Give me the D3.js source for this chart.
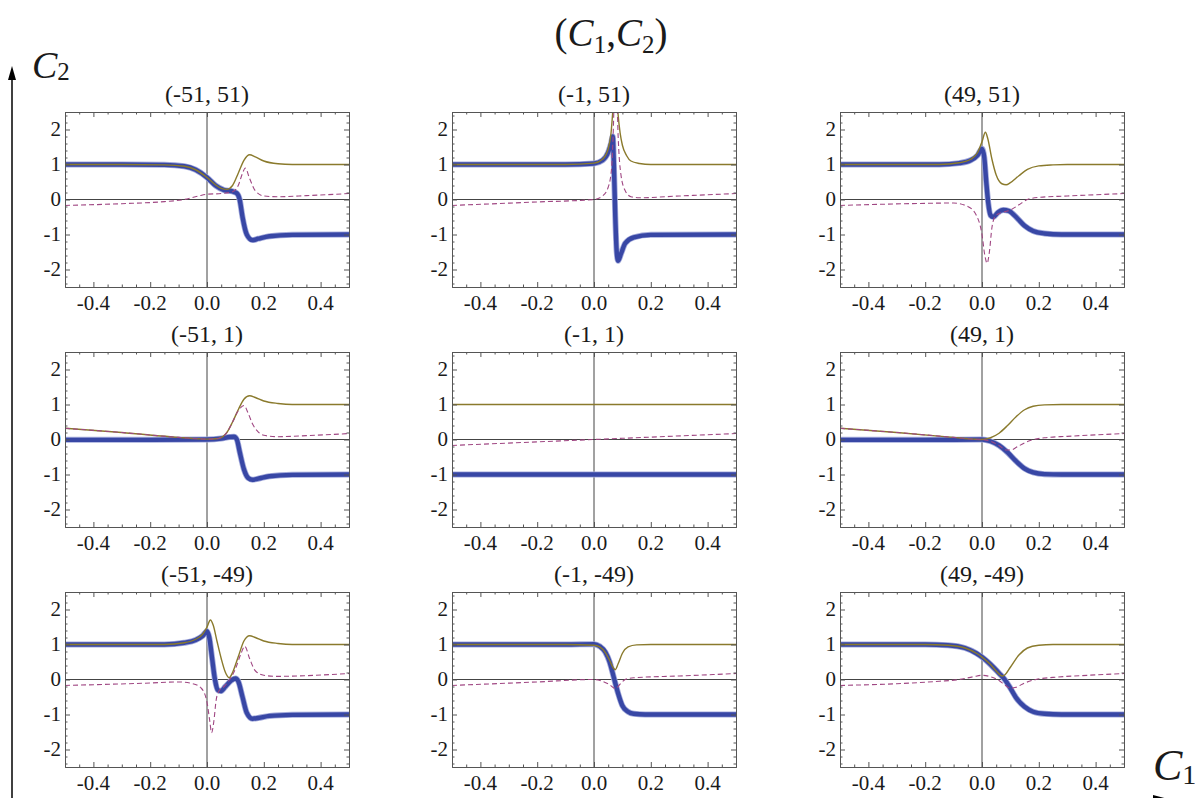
<!DOCTYPE html>
<html>
<head>
<meta charset="utf-8">
<script src="https://cdn.jsdelivr.net/npm/d3@7"></script>
<style>
  body { margin: 0; background: #fff; }
  text { font-family: "Liberation Serif", "DejaVu Serif", serif; fill: #1a1a1a; }
</style>
</head>
<body>
<script>
// Panel titles, (C1, C2) pairs, row by row
const panelTitles = ["(-51, 51)", "(-1, 51)", "(49, 51)",
                     "(-51, 1)", "(-1, 1)", "(49, 1)",
                     "(-51, -49)", "(-1, -49)", "(49, -49)"];

// Tick values and labels
const xTicks = [-0.4, -0.2, 0, 0.2, 0.4];
const xTickLabels = ["-0.4", "-0.2", "0.0", "0.2", "0.4"];
const yTicks = [-2, -1, 0, 1, 2];
const yTickLabels = ["-2", "-1", "0", "1", "2"];
const xMinor = [-0.5, -0.45, -0.35, -0.3, -0.25, -0.15, -0.1, -0.05, 0.05, 0.1, 0.15, 0.25, 0.3, 0.35, 0.45, 0.5];
const yMinor = [-2.4, -2.2, -1.8, -1.6, -1.4, -1.2, -0.8, -0.6, -0.4, -0.2, 0.2, 0.4, 0.6, 0.8, 1.2, 1.4, 1.6, 1.8, 2.2, 2.4];

// ---- row 1 ----
const blue1 = [[-0.5,1],[-0.3,1],[-0.15,0.99],[-0.08,0.95],[-0.04,0.85],[0,0.63],[0.03,0.4],[0.06,0.27],[0.09,0.23],[0.105,0.18],[0.115,0.0],[0.125,-0.5],[0.14,-1.0],[0.16,-1.16],[0.18,-1.12],[0.22,-1.05],[0.3,-1.01],[0.5,-1]];
const olive1 = [[-0.5,1],[-0.3,1],[-0.15,0.99],[-0.08,0.95],[-0.04,0.85],[0,0.63],[0.03,0.42],[0.05,0.32],[0.07,0.29],[0.09,0.4],[0.11,0.75],[0.13,1.12],[0.15,1.28],[0.17,1.22],[0.2,1.1],[0.25,1.02],[0.3,1.0],[0.5,1]];
const dash1 = [[-0.5,-0.17],[-0.3,-0.12],[-0.15,-0.06],[-0.08,0.0],[-0.03,0.1],[0,0.15],[0.05,0.17],[0.09,0.22],[0.11,0.4],[0.125,0.75],[0.135,0.9],[0.15,0.6],[0.17,0.25],[0.2,0.1],[0.25,0.08],[0.35,0.11],[0.5,0.17]];

const blue2 = [[-0.5,1],[-0.1,1],[0,1.03],[0.03,1.12],[0.05,1.35],[0.06,1.6],[0.066,1.8],[0.07,1.0],[0.075,-0.5],[0.08,-1.5],[0.085,-1.75],[0.095,-1.55],[0.11,-1.25],[0.14,-1.08],[0.2,-1.01],[0.5,-1]];
const olive2 = [[-0.5,1],[-0.1,1],[0,1.04],[0.03,1.15],[0.05,1.45],[0.06,1.9],[0.066,2.5],[0.072,3.2],[0.078,3.2],[0.084,2.5],[0.092,1.9],[0.1,1.55],[0.115,1.25],[0.13,1.1],[0.16,1.03],[0.2,1.0],[0.5,1]];
const dash2 = [[-0.5,-0.17],[-0.2,-0.07],[0,0.0],[0.03,0.1],[0.05,0.35],[0.062,0.9],[0.068,2.0],[0.072,3.0],[0.08,3.0],[0.085,1.8],[0.095,0.7],[0.11,0.25],[0.13,0.08],[0.16,0.05],[0.3,0.1],[0.5,0.17]];

const blue3 = [[-0.5,1],[-0.15,1],[-0.08,1.04],[-0.04,1.12],[-0.015,1.27],[0,1.45],[0.008,1.2],[0.015,0.5],[0.022,-0.1],[0.03,-0.45],[0.04,-0.5],[0.055,-0.38],[0.075,-0.3],[0.095,-0.33],[0.12,-0.5],[0.15,-0.75],[0.18,-0.9],[0.22,-0.97],[0.28,-1.0],[0.5,-1]];
const olive3 = [[-0.5,1],[-0.15,1],[-0.08,1.05],[-0.04,1.15],[-0.015,1.35],[0,1.65],[0.012,1.92],[0.02,1.75],[0.035,1.15],[0.05,0.7],[0.07,0.45],[0.085,0.42],[0.1,0.48],[0.13,0.68],[0.16,0.86],[0.2,0.96],[0.25,0.99],[0.3,1.0],[0.5,1]];
const dash3 = [[-0.5,-0.17],[-0.2,-0.11],[-0.1,-0.1],[-0.05,-0.2],[-0.02,-0.45],[0,-1.0],[0.01,-1.6],[0.018,-1.82],[0.026,-1.5],[0.035,-0.8],[0.045,-0.5],[0.06,-0.4],[0.08,-0.35],[0.1,-0.3],[0.13,-0.15],[0.16,0.0],[0.2,0.06],[0.3,0.1],[0.5,0.17]];

// ---- row 2 ----
const blue4 = [[-0.5,-0.01],[-0.2,-0.01],[0,0.0],[0.05,0.03],[0.08,0.07],[0.095,0.08],[0.105,0.0],[0.115,-0.35],[0.13,-0.85],[0.145,-1.1],[0.16,-1.15],[0.18,-1.12],[0.22,-1.05],[0.3,-1.01],[0.5,-1]];
const olive4 = [[-0.5,0.32],[-0.3,0.2],[-0.1,0.06],[-0.03,0.02],[0,0.01],[0.04,0.03],[0.07,0.2],[0.09,0.5],[0.11,0.85],[0.13,1.15],[0.15,1.25],[0.17,1.2],[0.2,1.1],[0.25,1.03],[0.3,1.0],[0.5,1]];
const dash4 = [[-0.5,0.32],[-0.3,0.2],[-0.1,0.06],[-0.03,0.02],[0,0.01],[0.04,0.03],[0.07,0.2],[0.09,0.5],[0.11,0.82],[0.13,0.97],[0.145,0.75],[0.16,0.45],[0.18,0.22],[0.2,0.12],[0.25,0.08],[0.35,0.11],[0.5,0.17]];

const blue5 = [[-0.5,-1],[0,-1],[0.5,-1]];
const olive5 = [[-0.5,1],[0,1],[0.5,1]];
const dash5 = [[-0.5,-0.17],[0,0],[0.5,0.17]];

const blue6 = [[-0.5,-0.01],[-0.2,-0.01],[0,0.0],[0.03,-0.05],[0.06,-0.17],[0.09,-0.37],[0.12,-0.62],[0.15,-0.83],[0.18,-0.94],[0.22,-0.99],[0.28,-1.0],[0.5,-1]];
const olive6 = [[-0.5,0.32],[-0.3,0.2],[-0.1,0.06],[-0.03,0.01],[0,0.0],[0.03,0.05],[0.06,0.18],[0.09,0.4],[0.12,0.65],[0.15,0.85],[0.18,0.95],[0.22,0.99],[0.28,1.0],[0.5,1]];
const dash6 = [[-0.5,0.32],[-0.3,0.2],[-0.1,0.06],[-0.03,0.01],[0,0.0],[0.03,-0.05],[0.06,-0.17],[0.085,-0.3],[0.1,-0.3],[0.13,-0.18],[0.17,-0.03],[0.22,0.05],[0.3,0.09],[0.5,0.17]];

// ---- row 3 ----
const blue7 = [[-0.5,1],[-0.15,1],[-0.08,1.05],[-0.04,1.13],[-0.015,1.25],[0,1.38],[0.008,1.2],[0.018,0.6],[0.028,0.0],[0.038,-0.3],[0.048,-0.33],[0.065,-0.2],[0.085,-0.03],[0.1,0.03],[0.11,-0.05],[0.125,-0.5],[0.14,-0.95],[0.16,-1.12],[0.18,-1.1],[0.22,-1.04],[0.3,-1.01],[0.5,-1]];
const olive7 = [[-0.5,1],[-0.15,1],[-0.08,1.05],[-0.04,1.15],[-0.015,1.3],[0,1.5],[0.012,1.7],[0.022,1.55],[0.035,1.1],[0.05,0.6],[0.065,0.2],[0.078,0.05],[0.09,0.2],[0.11,0.65],[0.13,1.1],[0.15,1.25],[0.17,1.2],[0.2,1.1],[0.25,1.03],[0.3,1.0],[0.5,1]];
const dash7 = [[-0.5,-0.17],[-0.2,-0.1],[-0.1,-0.07],[-0.05,-0.12],[-0.02,-0.25],[0,-0.65],[0.01,-1.2],[0.016,-1.52],[0.024,-1.2],[0.032,-0.6],[0.042,-0.33],[0.06,-0.2],[0.08,0.0],[0.1,0.3],[0.12,0.75],[0.133,0.95],[0.15,0.6],[0.17,0.25],[0.2,0.12],[0.25,0.09],[0.35,0.11],[0.5,0.17]];

const blue8 = [[-0.5,1],[-0.1,1.0],[0,1.01],[0.02,0.95],[0.04,0.78],[0.055,0.5],[0.07,0.05],[0.085,-0.4],[0.1,-0.75],[0.12,-0.92],[0.14,-0.98],[0.18,-1.0],[0.5,-1]];
const olive8 = [[-0.5,1],[-0.1,1],[0,0.98],[0.02,0.93],[0.04,0.77],[0.055,0.55],[0.068,0.33],[0.075,0.28],[0.085,0.45],[0.1,0.75],[0.12,0.93],[0.15,0.99],[0.2,1.0],[0.5,1]];
const dash8 = [[-0.5,-0.17],[-0.2,-0.07],[0,0.0],[0.03,-0.05],[0.055,-0.15],[0.075,-0.26],[0.09,-0.15],[0.11,0.0],[0.14,0.05],[0.3,0.1],[0.5,0.17]];

const blue9 = [[-0.5,1],[-0.2,1],[-0.12,0.98],[-0.06,0.9],[-0.02,0.75],[0,0.64],[0.03,0.43],[0.06,0.18],[0.08,0.0],[0.1,-0.25],[0.12,-0.52],[0.15,-0.78],[0.18,-0.92],[0.22,-0.98],[0.28,-1.0],[0.5,-1]];
const olive9 = [[-0.5,1],[-0.2,1],[-0.12,0.98],[-0.06,0.9],[-0.02,0.75],[0,0.64],[0.03,0.43],[0.055,0.2],[0.07,0.1],[0.08,0.13],[0.1,0.35],[0.13,0.7],[0.16,0.9],[0.2,0.98],[0.25,1.0],[0.5,1]];
const dash9 = [[-0.5,-0.17],[-0.3,-0.12],[-0.15,-0.05],[-0.08,0.0],[-0.03,0.08],[0,0.12],[0.03,0.08],[0.06,-0.03],[0.08,-0.15],[0.1,-0.25],[0.12,-0.22],[0.15,-0.1],[0.19,0.0],[0.25,0.06],[0.35,0.11],[0.5,0.17]];

const blues = [blue1, blue2, blue3, blue4, blue5, blue6, blue7, blue8, blue9];
const olives = [olive1, olive2, olive3, olive4, olive5, olive6, olive7, olive8, olive9];
const dashes = [dash1, dash2, dash3, dash4, dash5, dash6, dash7, dash8, dash9];

// Layout
const width = 1195, height = 798;
const colX = [65, 452, 840], rowY = [112, 352, 592];
const pw = 284, ph = 175;

const svg = d3.select("body").append("svg")
    .attr("width", width)
    .attr("height", height);

panelTitles.forEach((title, i) => {
    const left = colX[i % 3], top = rowY[Math.floor(i / 3)];

    const x = d3.scaleLinear().domain([-0.5, 0.5]).range([0, pw]);
    const y = d3.scaleLinear().domain([-2.5, 2.5]).range([ph, 0]);

    const g = svg.append("g").attr("transform", `translate(${left},${top})`);

    // clip region for the curves
    g.append("clipPath").attr("id", "clip" + i)
        .append("rect").attr("width", pw).attr("height", ph);

    // zero axes
    g.append("line")
        .attr("x1", 0).attr("x2", pw).attr("y1", y(0)).attr("y2", y(0))
        .attr("stroke", "#444").attr("stroke-width", 1);
    g.append("line")
        .attr("x1", x(0)).attr("x2", x(0)).attr("y1", 0).attr("y2", ph)
        .attr("stroke", "#444").attr("stroke-width", 1);

    const line = d3.line()
        .x(d => x(d[0]))
        .y(d => y(d[1]))
        .curve(d3.curveMonotoneX);

    const curves = g.append("g").attr("clip-path", `url(#clip${i})`);

    curves.append("path")
        .attr("d", line(blues[i]))
        .attr("fill", "none")
        .attr("stroke", "#a3aadb")
        .attr("stroke-width", 6);
    curves.append("path")
        .attr("d", line(blues[i]))
        .attr("fill", "none")
        .attr("stroke", "#3847a5")
        .attr("stroke-width", 4.4);
    curves.append("path")
        .attr("d", line(olives[i]))
        .attr("fill", "none")
        .attr("stroke", "#8a7a2c")
        .attr("stroke-width", 1.4);
    curves.append("path")
        .attr("d", line(dashes[i]))
        .attr("fill", "none")
        .attr("stroke", "#a04783")
        .attr("stroke-width", 1.1)
        .attr("stroke-dasharray", "5,3");

    // frame with inward ticks on all four sides (lines only)
    const frame = [
        [d3.axisBottom, x, `translate(0,${ph})`, xTicks, xMinor],
        [d3.axisTop, x, null, xTicks, xMinor],
        [d3.axisLeft, y, null, yTicks, yMinor],
        [d3.axisRight, y, `translate(${pw},0)`, yTicks, yMinor]
    ];
    frame.forEach(([axis, scale, tr, major, minor]) => {
        const gm = g.append("g").call(axis(scale)
            .tickValues(minor).tickSizeInner(-2.5).tickSizeOuter(0).tickFormat(""));
        const ga = g.append("g").call(axis(scale)
            .tickValues(major).tickSizeInner(-5).tickSizeOuter(0).tickFormat(""));
        if (tr) { gm.attr("transform", tr); ga.attr("transform", tr); }
        [gm, ga].forEach(s => s.selectAll("path, line").attr("stroke", "#555"));
    });

    // tick labels
    g.selectAll(".xl").data(xTicks).enter().append("text")
        .attr("x", d => x(d))
        .attr("y", ph + 23)
        .attr("text-anchor", "middle")
        .style("font-size", "21px")
        .text((d, j) => xTickLabels[j]);
    g.selectAll(".yl").data(yTicks).enter().append("text")
        .attr("x", -4)
        .attr("y", d => y(d))
        .attr("dy", "0.33em")
        .attr("text-anchor", "end")
        .style("font-size", "21px")
        .text((d, j) => yTickLabels[j]);

    // panel title
    g.append("text")
        .attr("x", pw / 2)
        .attr("y", -10)
        .attr("text-anchor", "middle")
        .style("font-size", "24px")
        .text(title);
});

// Overall title (C1, C2)
const tt = svg.append("text")
    .attr("x", 611).attr("y", 46)
    .attr("text-anchor", "middle")
    .style("font-size", "39px");
tt.append("tspan").text("(");
tt.append("tspan").style("font-style", "italic").text("C");
tt.append("tspan").attr("dy", 7).style("font-size", "25px").text("1");
tt.append("tspan").attr("dy", -7).text(",");
tt.append("tspan").style("font-style", "italic").text("C");
tt.append("tspan").attr("dy", 7).style("font-size", "25px").text("2");
tt.append("tspan").attr("dy", -7).text(")");

// Vertical C2 arrow on the left
svg.append("line")
    .attr("x1", 12).attr("x2", 12).attr("y1", 78).attr("y2", height)
    .attr("stroke", "#000").attr("stroke-width", 1.5);
svg.append("path")
    .attr("d", "M12,66 L16,80 L8,80 Z")
    .attr("fill", "#000");

const c2 = svg.append("text").attr("x", 32).attr("y", 78).style("font-size", "38px");
c2.append("tspan").style("font-style", "italic").text("C");
c2.append("tspan").attr("dy", 2).style("font-size", "25px").text("2");

// C1 label at bottom right with the tip of its arrow
const c1 = svg.append("text").attr("x", 1153).attr("y", 780).style("font-size", "44px");
c1.append("tspan").style("font-style", "italic").text("C");
c1.append("tspan").attr("dy", 4).style("font-size", "28px").text("1");
svg.append("path")
    .attr("d", "M1153,795 L1172,800 L1153,810 Z")
    .attr("fill", "#000");
</script>
</body>
</html>
